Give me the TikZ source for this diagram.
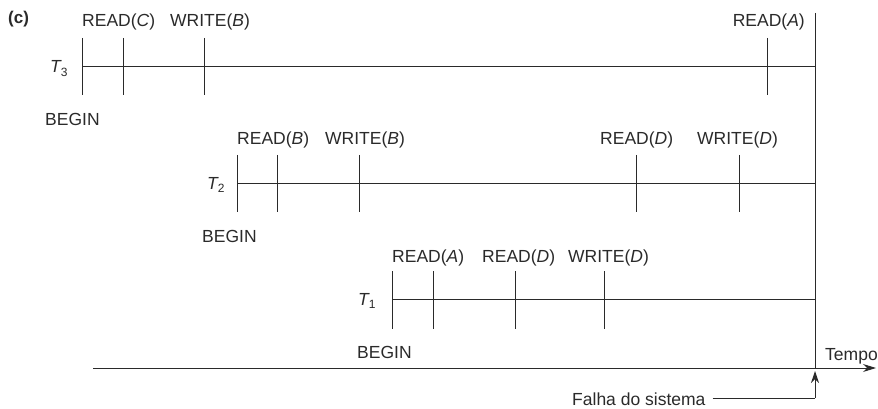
\documentclass[tikz,border=0pt]{standalone}
\usepackage{fontspec}
\setmainfont{Liberation Sans}
\usetikzlibrary{arrows.meta}
\definecolor{ink}{HTML}{2a2a2a}
\newcommand{\lblfont}{\fontsize{17.5}{20}\selectfont}
\newcommand{\Tsub}[1]{\textit{T}\kern-1pt\raisebox{-3.5pt}{\fontsize{12}{13}\selectfont #1}}
\tikzset{
  lbl/.style={anchor=base west, inner sep=0pt, font=\lblfont, text=ink},
  lblr/.style={anchor=base east, inner sep=0pt, font=\lblfont, text=ink},
  lifeline/.style={draw=ink, line width=1pt},
  tick/.style={draw=ink, line width=1pt},
}
\begin{document}
\begin{tikzpicture}[x=1pt,y=-1pt]
\useasboundingbox (0,0) rectangle (878,409);
% (c)
\node[lbl, font=\fontsize{17}{20}\selectfont\bfseries] (c) at (8,24) {(c)};
% failure line
\coordinate (ftop) at (815,13);
\coordinate (fbot) at (815,368);
\draw[lifeline] (ftop) -- (fbot);
% T3
\coordinate (t3s) at (82,67); \coordinate (t3e) at (815,67);
\draw[lifeline] (t3s) -- (t3e);
\foreach \x in {82,123,204,767} \draw[tick] (\x,38) -- (\x,95);
\node[lbl] (T3) at (50,73) {\Tsub{3}};
\node[lbl] (r3c) at (82,27) {READ(\textit{C})};
\node[lbl] (w3b) at (170,27) {WRITE(\textit{B})};
\node[lblr] (r3a) at (805,27) {READ(\textit{A})};
\node[lbl] (b3) at (45,126) {BEGIN};
% T2
\coordinate (t2s) at (237,183); \coordinate (t2e) at (815,183);
\draw[lifeline] (t2s) -- (t2e);
\foreach \x in {237,277,359,636,739} \draw[tick] (\x,155) -- (\x,212);
\node[lbl] (T2) at (207,189) {\Tsub{2}};
\node[lbl] (r2b) at (237,145) {READ(\textit{B})};
\node[lbl] (w2b) at (325,145) {WRITE(\textit{B})};
\node[lbl] (r2d) at (600,145) {READ(\textit{D})};
\node[lbl] (w2d) at (697,145) {WRITE(\textit{D})};
\node[lbl] (b2) at (202,242) {BEGIN};
% T1
\coordinate (t1s) at (392,299); \coordinate (t1e) at (815,299);
\draw[lifeline] (t1s) -- (t1e);
\foreach \x in {392,433,515,604} \draw[tick] (\x,271) -- (\x,329);
\node[lbl] (T1) at (358,305) {\Tsub{1}};
\node[lbl] (r1a) at (392,262) {READ(\textit{A})};
\node[lbl] (r1d) at (482,262) {READ(\textit{D})};
\node[lbl] (w1d) at (568,262) {WRITE(\textit{D})};
\node[lbl] (b1) at (357,358) {BEGIN};
% time axis
\coordinate (ax0) at (93,368);
\coordinate (ax1) at (876,368);
\draw[lifeline, -{Stealth[length=13pt,width=8pt]}] (ax0) -- (ax1);
\node[lbl] (tempo) at (825,360) {Tempo};
% failure label
\node[lbl] (falha) at (572,405) {Falha do sistema};
\coordinate (fc) at (815,398);
\coordinate (ftip) at (815,371);
\draw[lifeline] ([xshift=7pt]falha.base east |- fc) -- (fc);
\draw[lifeline, -{Stealth[length=12pt,width=8pt]}] (fc) -- (ftip);
\end{tikzpicture}
\end{document}
